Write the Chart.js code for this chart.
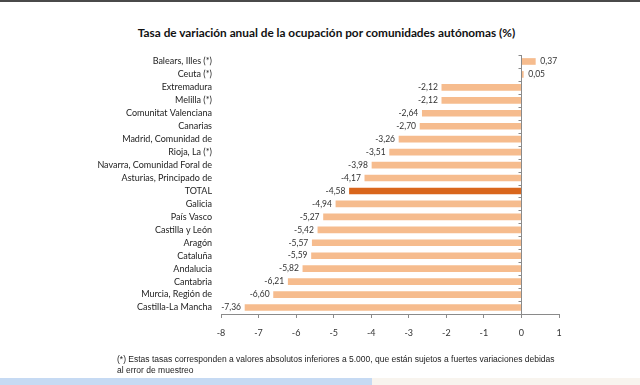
<!DOCTYPE html>
<html>
<head>
<meta charset="utf-8">
<script src="https://cdn.jsdelivr.net/npm/chart.js@4.4.1/dist/chart.umd.min.js"></script>
<style>
  body { margin: 0; width: 640px; height: 385px; overflow: hidden; background: #fff; position: relative; }
  #topline { position: absolute; left: 0; top: 0; width: 640px; height: 2px; background: #4a4a4a; }
  #title { position: absolute; left: 0; width: 653px; top: 25px; text-align: center; font: bold 11.8px Lato, sans-serif; color: #111; }
  #wrap { position: absolute; left: 0; top: 0; width: 640px; height: 385px; }
  #note { position: absolute; left: 117px; top: 354px; font: 8.5px "Liberation Sans", Arial, sans-serif; color: #222; line-height: 11px; }
  #stripA { position: absolute; left: 0; top: 378px; width: 372px; height: 7px; background: #c6daf3; }
  #stripB { position: absolute; left: 372px; top: 378px; width: 268px; height: 7px; background: #f8f4ee; }
</style>
</head>
<body>
<div id="topline"></div>
<div id="title">Tasa de variación anual de la ocupación por comunidades autónomas (%)</div>
<div id="wrap"><canvas id="chart"></canvas></div>
<div id="note">(*) Estas tasas corresponden a valores absolutos inferiores a 5.000, que están sujetos a fuertes variaciones debidas<br>al error de muestreo</div>
<div id="stripA"></div>
<div id="stripB"></div>
<script>
// Data
const regions = [
    'Balears, Illes (*)', 'Ceuta (*)', 'Extremadura', 'Melilla (*)', 'Comunitat Valenciana',
    'Canarias', 'Madrid, Comunidad de', 'Rioja, La (*)', 'Navarra, Comunidad Foral de',
    'Asturias, Principado de', 'TOTAL', 'Galicia', 'País Vasco', 'Castilla y León', 'Aragón',
    'Cataluña', 'Andalucia', 'Cantabria', 'Murcia, Región de', 'Castilla-La Mancha'
];
const rates = [0.37, 0.05, -2.12, -2.12, -2.64, -2.70, -3.26, -3.51, -3.98, -4.17,
    -4.58, -4.94, -5.27, -5.42, -5.57, -5.59, -5.82, -6.21, -6.60, -7.36];
const xTicks = [-8, -7, -6, -5, -4, -3, -2, -1, 0, 1];

const lightColor = '#f6bc8e';
const totalColor = '#d9661c';
const axisColor = '#8a8a8a';

// Zero axis with category ticks + value labels
const zeroAxisAndLabels = {
    id: 'zeroAxisAndLabels',
    afterDatasetsDraw(chart) {
        const ctx = chart.ctx;
        const x = chart.scales.x;
        const area = chart.chartArea;
        const x0 = Math.round(x.getPixelForValue(0)) + 0.5;
        ctx.save();
        ctx.strokeStyle = axisColor;
        ctx.lineWidth = 1;
        ctx.beginPath();
        ctx.moveTo(x0, area.top);
        ctx.lineTo(x0, area.bottom);
        const band = (area.bottom - area.top) / regions.length;
        for (let i = 0; i <= regions.length; i++) {
            const yy = Math.round(area.top + i * band) + 0.5;
            ctx.moveTo(x0 - 3, yy);
            ctx.lineTo(x0, yy);
        }
        ctx.stroke();

        ctx.fillStyle = '#333';
        ctx.font = '8.5px Lato, sans-serif';
        ctx.textBaseline = 'middle';
        const meta = chart.getDatasetMeta(0);
        meta.data.forEach(function(bar, i) {
            const v = rates[i];
            const txt = v.toFixed(2).replace('.', ',');
            if (v < 0) {
                ctx.textAlign = 'right';
                ctx.fillText(txt, bar.x - 4, bar.y);
            } else {
                ctx.textAlign = 'left';
                ctx.fillText(txt, bar.x + 5, bar.y);
            }
        });
        ctx.restore();
    }
};

const chartCtx = document.getElementById('chart').getContext('2d');
new Chart(chartCtx, {
    type: 'bar',
    data: {
        labels: regions,
        datasets: [{
            data: rates,
            backgroundColor: regions.map(r => r === 'TOTAL' ? totalColor : lightColor),
            borderWidth: 0,
            barThickness: 6
        }]
    },
    options: {
        indexAxis: 'y',
        responsive: true,
        maintainAspectRatio: false,
        animation: false,
        layout: { padding: { top: 55, right: 81, bottom: 0, left: 0 } },
        scales: {
            x: {
                min: -8,
                max: 1,
                afterBuildTicks: function(scale) {
                    scale.ticks = xTicks.map(v => ({ value: v }));
                },
                afterFit: function(scale) { scale.height = 71; },
                grid: {
                    display: true,
                    drawOnChartArea: false,
                    tickLength: 4,
                    tickColor: axisColor
                },
                border: { display: true, color: axisColor },
                ticks: {
                    padding: 10,
                    color: '#333',
                    font: { family: 'Lato', size: 9 },
                    callback: v => String(v)
                }
            },
            y: {
                afterFit: function(scale) { scale.width = 221; },
                grid: { display: false },
                border: { display: false },
                ticks: {
                    padding: 1,
                    color: '#222',
                    autoSkip: false,
                    font: { family: 'Lato', size: 9 }
                }
            }
        },
        plugins: {
            legend: { display: false },
            tooltip: { enabled: false }
        }
    },
    plugins: [zeroAxisAndLabels]
});
</script>
</body>
</html>
